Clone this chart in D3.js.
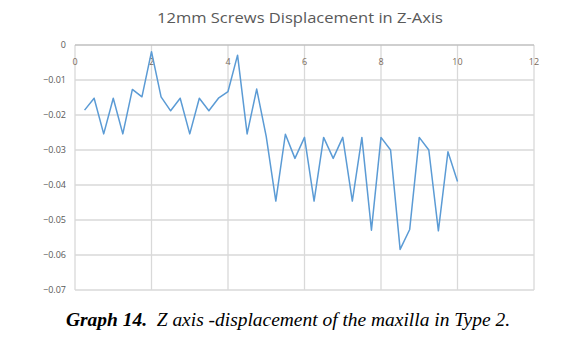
<!DOCTYPE html>
<html><head><meta charset="utf-8">
<script src="https://cdn.jsdelivr.net/npm/d3@7"></script>
<style>body{margin:0;background:#fff}svg{display:block}</style>
</head><body>
<svg id="c" width="565" height="342"></svg>
<script>
const xValues = [0.25,0.5,0.75,1,1.25,1.5,1.75,2,2.25,2.5,2.75,3,3.25,3.5,3.75,4,4.25,4.5,4.75,5,5.25,5.5,5.75,6,6.25,6.5,6.75,7,7.25,7.5,7.75,8,8.25,8.5,8.75,9,9.25,9.5,9.75,10];
const zValues = [-0.0186,-0.0152,-0.0254,-0.0152,-0.0254,-0.0127,-0.0148,-0.0019,-0.0148,-0.0188,-0.0152,-0.0254,-0.0152,-0.0188,-0.0152,-0.0133,-0.0029,-0.0254,-0.0126,-0.0262,-0.0446,-0.0255,-0.0324,-0.0264,-0.0446,-0.0264,-0.0324,-0.0264,-0.0446,-0.0264,-0.0529,-0.0264,-0.0300,-0.0584,-0.0527,-0.0264,-0.0300,-0.0531,-0.0305,-0.0390];
const xTicks = [0,2,4,6,8,10,12];
const yTicks = [0,-0.01,-0.02,-0.03,-0.04,-0.05,-0.06,-0.07];
const title = "12mm Screws Displacement in Z-Axis";

const svg = d3.select("#c");
const x = d3.scaleLinear().domain([0,12]).range([75,534]);
const y = d3.scaleLinear().domain([0,-0.07]).range([45,290]);

// gridlines
svg.append("g").selectAll("line.v").data(xTicks).join("line")
  .attr("x1",d=>x(d)).attr("x2",d=>x(d)).attr("y1",y(0)).attr("y2",y(-0.07))
  .attr("stroke","#d9d9d9").attr("stroke-width",1.3);
svg.append("g").selectAll("line.h").data(yTicks.slice(1)).join("line")
  .attr("x1",x(0)).attr("x2",x(12)).attr("y1",d=>y(d)).attr("y2",d=>y(d))
  .attr("stroke","#d9d9d9").attr("stroke-width",1.3);
// zero axis (top)
svg.append("line").attr("x1",x(0)).attr("x2",x(12)).attr("y1",y(0)).attr("y2",y(0))
  .attr("stroke","#bfbfbf").attr("stroke-width",1.5);

// x tick labels
svg.append("g").selectAll("text").data(xTicks).join("text")
  .attr("x",d=>x(d)).attr("y",y(0)+20).attr("text-anchor","middle")
  .attr("font-family","Open Sans, sans-serif").attr("font-size",9).attr("fill","#7a6a5a")
  .text(d=>d);
// y tick labels
svg.append("g").selectAll("text").data(yTicks).join("text")
  .attr("x",66).attr("y",d=>y(d)+3).attr("text-anchor","end")
  .attr("font-family","Open Sans, sans-serif").attr("font-size",9).attr("fill","#595959")
  .text(d=>d===0?"0":d3.format(".2f")(d));

// line
const pts = xValues.map((v,i)=>[v,zValues[i]]);
svg.append("path").datum(pts)
  .attr("d",d3.line().x(d=>x(d[0])).y(d=>y(d[1])))
  .attr("fill","none").attr("stroke","#5b9bd5").attr("stroke-width",1.5).attr("stroke-linejoin","round");

// title
svg.append("text").attr("x",300).attr("y",23).attr("text-anchor","middle")
  .attr("font-family","Open Sans, sans-serif").attr("font-size",14.5).attr("fill","#595959")
  .attr("textLength",286).attr("lengthAdjust","spacingAndGlyphs")
  .text(title);

// caption
const cap = svg.append("text").attr("x",66).attr("y",326)
  .attr("font-family","Liberation Serif, Times New Roman, serif").attr("font-size",18.5).attr("font-style","italic").attr("fill","#000")
  .attr("textLength",444).attr("lengthAdjust","spacingAndGlyphs");
cap.append("tspan").attr("font-weight","bold").text("Graph 14.");
cap.append("tspan").text("\u00a0 Z axis -displacement of the maxilla in Type 2.");
</script>
</body></html>
